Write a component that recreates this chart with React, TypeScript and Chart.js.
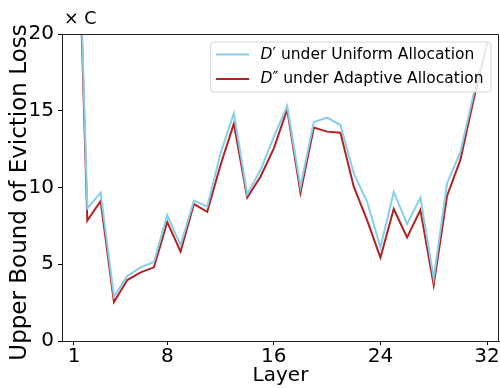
import React, { useEffect, useRef } from "react";
import { Chart, registerables } from "chart.js";

Chart.register(...registerables);

const LAYERS = [1, 2, 3, 4, 5, 6, 7, 8, 9, 10, 11, 12, 13, 14, 15, 16, 17, 18, 19, 20, 21, 22, 23, 24, 25, 26, 27, 28, 29, 30, 31, 32];
const UNIFORM = [38, 8.64, 9.66, 2.89, 4.23, 4.8, 5.15, 8.19, 6.25, 9.14, 8.75, 12.23, 14.83, 9.56, 11.14, 13.3, 15.31, 10.05, 14.27, 14.55, 14.07, 10.92, 9.07, 6.1, 9.71, 7.62, 9.34, 4.08, 10.27, 12.3, 16.1, 19.5];
const ADAPTIVE = [37, 7.84, 9.12, 2.54, 3.97, 4.47, 4.8, 7.75, 5.82, 8.92, 8.42, 11.47, 14.16, 9.35, 10.7, 12.55, 15.09, 9.66, 13.9, 13.64, 13.57, 10.05, 7.88, 5.43, 8.6, 6.75, 8.53, 3.65, 9.45, 11.8, 15.75, 19.4];
const X_TICKS = [1, 8, 16, 24, 32];
const Y_TICKS = [0, 5, 10, 15, 20];
const SERIES_NAMES = [
  { sym: "D", prime: "\u2032", rest: " under Uniform Allocation" },
  { sym: "D", prime: "\u2033", rest: " under Adaptive Allocation" },
];
const COLORS = ["#87CEEB", "#B22222"];
const UNIT_LABEL = "\u00D7 C";
const X_TITLE = "Layer";
const Y_TITLE = "Upper Bound of Eviction Loss";

const FONT = "'DejaVu Sans', sans-serif";

const framePlugin = {
  id: "frame",
  afterDatasetsDraw(chart: any) {
    const { ctx, chartArea: a } = chart;
    ctx.save();
    ctx.strokeStyle = "#222";
    ctx.lineWidth = 1;
    ctx.beginPath();
    ctx.moveTo(a.left, a.top + 0.5);
    ctx.lineTo(a.right - 0.5, a.top + 0.5);
    ctx.lineTo(a.right - 0.5, a.bottom);
    ctx.stroke();
    ctx.restore();
  },
};

const legendPlugin = {
  id: "customLegend",
  afterDatasetsDraw(chart: any) {
    const { ctx, chartArea: a } = chart;
    const fs = 15.5;
    ctx.save();
    const normal = `${fs}px ${FONT}`;
    const italic = `italic ${fs}px ${FONT}`;
    const widths = SERIES_NAMES.map((n) => {
      ctx.font = italic;
      const w1 = ctx.measureText(n.sym).width;
      ctx.font = normal;
      return w1 + ctx.measureText(n.prime + n.rest).width;
    });
    const maxW = Math.max(...widths);
    const padL = 5.5, lineLen = 33, gap = 11.5, padR = 7.5;
    const boxW = padL + lineLen + gap + maxW + padR;
    const boxH = 50;
    const right = a.right - 8;
    const left = right - boxW;
    const top = a.top + 8;
    const r = 3;
    ctx.beginPath();
    ctx.moveTo(left + r, top);
    ctx.lineTo(right - r, top);
    ctx.arcTo(right, top, right, top + r, r);
    ctx.lineTo(right, top + boxH - r);
    ctx.arcTo(right, top + boxH, right - r, top + boxH, r);
    ctx.lineTo(left + r, top + boxH);
    ctx.arcTo(left, top + boxH, left, top + boxH - r, r);
    ctx.lineTo(left, top + r);
    ctx.arcTo(left, top, left + r, top, r);
    ctx.closePath();
    ctx.fillStyle = "rgba(255,255,255,0.8)";
    ctx.fill();
    ctx.strokeStyle = "#d6d6d6";
    ctx.lineWidth = 1;
    ctx.stroke();
    const rowY = [top + 12.5, top + 37];
    SERIES_NAMES.forEach((n, i) => {
      const y = rowY[i];
      ctx.strokeStyle = COLORS[i];
      ctx.lineWidth = 2;
      ctx.beginPath();
      ctx.moveTo(left + padL, y);
      ctx.lineTo(left + padL + lineLen, y);
      ctx.stroke();
      let x = left + padL + lineLen + gap;
      ctx.fillStyle = "#000";
      ctx.textBaseline = "middle";
      ctx.textAlign = "left";
      ctx.font = italic;
      ctx.fillText(n.sym, x, y);
      x += ctx.measureText(n.sym).width;
      ctx.font = normal;
      ctx.fillText(n.prime + n.rest, x, y);
    });
    ctx.restore();
  },
};

const textPlugin = {
  id: "extraText",
  afterDraw(chart: any) {
    const { ctx, chartArea: a } = chart;
    ctx.save();
    ctx.fillStyle = "#000";
    ctx.font = `17.5px ${FONT}`;
    ctx.textAlign = "left";
    ctx.textBaseline = "alphabetic";
    ctx.fillText(UNIT_LABEL, a.left + 2, a.top - 10);
    ctx.translate(20, (a.top + a.bottom) / 2 + 5);
    ctx.rotate(-Math.PI / 2);
    ctx.font = `23px ${FONT}`;
    ctx.textAlign = "center";
    ctx.textBaseline = "middle";
    ctx.fillText(Y_TITLE, 0, 0);
    ctx.restore();
  },
};

export default function App() {
  const ref = useRef<HTMLCanvasElement | null>(null);
  useEffect(() => {
    if (!ref.current) return;
    const chart = new Chart(ref.current, {
      type: "line",
      data: {
        datasets: [
          {
            label: "uniform",
            data: LAYERS.map((l, i) => ({ x: l, y: UNIFORM[i] })),
            borderColor: COLORS[0],
            borderWidth: 2,
            pointRadius: 0,
            tension: 0,
            clip: 0,
          },
          {
            label: "adaptive",
            data: LAYERS.map((l, i) => ({ x: l, y: ADAPTIVE[i] })),
            borderColor: COLORS[1],
            borderWidth: 2,
            pointRadius: 0,
            tension: 0,
            clip: 0,
          },
        ],
      } as any,
      options: {
        responsive: false,
        animation: false,
        layout: { padding: { top: 34, right: 1, left: 0, bottom: 0 } },
        plugins: { legend: { display: false }, tooltip: { enabled: false } },
        scales: {
          x: {
            type: "linear",
            min: 0.1,
            max: 32.9,
            afterBuildTicks: (s: any) => {
              s.ticks = X_TICKS.map((v) => ({ value: v }));
            },
            afterFit: (s: any) => {
              s.height = 47;
            },
            grid: { drawOnChartArea: false, tickLength: 4, tickColor: "#000", tickWidth: 1 },
            border: { color: "#222", width: 1 },
            ticks: { color: "#000", font: { family: FONT, size: 20 }, padding: 0, autoSkip: false, maxRotation: 0 },
            title: { display: true, text: X_TITLE, color: "#000", font: { family: FONT, size: 20 }, padding: { top: 0, bottom: 0 } },
          },
          y: {
            type: "linear",
            min: 0,
            max: 20,
            afterBuildTicks: (s: any) => {
              s.ticks = Y_TICKS.map((v) => ({ value: v }));
            },
            afterFit: (s: any) => {
              s.width = 62;
            },
            grid: { drawOnChartArea: false, tickLength: 4, tickColor: "#000", tickWidth: 1 },
            border: { color: "#222", width: 1 },
            ticks: { color: "#000", font: { family: FONT, size: 20 }, padding: 4 },
            title: { display: false },
          },
        },
      } as any,
      plugins: [framePlugin, legendPlugin, textPlugin],
    });
    return () => chart.destroy();
  }, []);
  return (
    <div style={{ position: "fixed", left: 0, top: 0, width: 500, height: 388, background: "#fff" }}>
      <canvas ref={ref} width={500} height={388} style={{ width: 500, height: 388, display: "block" }} />
    </div>
  );
}
